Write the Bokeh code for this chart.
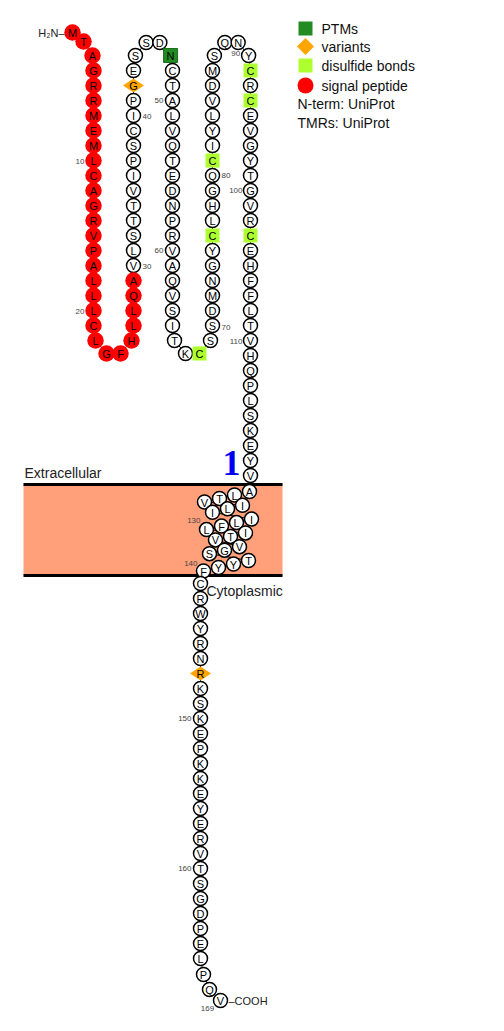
import math
from bokeh.plotting import figure
from bokeh.models import Range1d
from bokeh.core.properties import value
from bokeh.embed import file_html
from bokeh.resources import INLINE

# protein data
sequence = ("MTAGRRMEML" "CAGRVPALLL" "CLGFHLLQAV" "LSTTVIPSCI" "PGESSDNCTA"
            "LVQTEDNPRV" "AQVSITKCSS" "DMNGYCLHGQ" "CIYLVDMSQN" "YCRCEVGYTG"
            "VRCEHFFLTV" "HQPLSKEYVA" "LTVILIILFL" "ITVVGSTYYF" "CRWYRNRKSK"
            "EPKKEYERVT" "SGDPELPQV")
signal_peptide = (1, 29)
ptm_sites = [47]
variant_sites = [42, 147]
disulfide_sites = [68, 76, 81, 92, 94, 103]
tm_region = (120, 140)
tm_name = "1"
numbered = [10, 20, 30, 40, 50, 60, 70, 80, 90, 100, 110, 130, 140, 150, 160, 169]
legend_labels = ["PTMs", "variants", "disulfide bonds", "signal peptide"]
legend_notes = ["N-term: UniProt", "TMRs: UniProt"]
side_labels = ["Extracellular", "Cytoplasmic"]

FONT = value("Liberation Sans")

# ---- layout (pixel units, y grows downward) ----
STEP = 15
cols = [93, 133, 172, 212, 250]
Y_TOP, Y_BOT = 70, 325
TURN = [(2, 15), (13, 28), (27, 28), (38, 15)]
tm_rows = [4, 3, 4, 3, 3, 4]
tm_row_x = [249, 242, 251, 245, 239, 248]
MEM_TOP, MEM_BOT = 484, 575

xs, ys = [], []


def add(x, y):
    xs.append(x)
    ys.append(y)


for dx, dy in [(-21, -38), (-10, -29), (-1, -15)]:
    add(cols[0] + dx, Y_TOP + dy)
for c in range(4):
    down = c % 2 == 0
    col_y = [Y_TOP + k * STEP for k in range(18)]
    for y in (col_y if down else col_y[::-1]):
        add(cols[c], y)
    gap = cols[c + 1] - cols[c]
    for dx, dy in TURN:
        add(cols[c] + dx * gap / 40, Y_BOT + dy if down else Y_TOP - dy)
for k in range(tm_region[0] - 1 - len(xs)):
    add(cols[4], Y_TOP + k * STEP)
for r, n in enumerate(tm_rows):
    for j in range(n):
        add(tm_row_x[r] - 15 * j, 491 + 13.8 * r + 3.5 * j)
for k in range(len(sequence) - 3 - len(xs)):
    add(200, 583 + k * STEP)
lx, ly = xs[-1], ys[-1]
for dx, dy in [(3, 16), (9, 31), (20, 42)]:
    add(lx + dx, ly + dy)

p = figure(width=488, height=1015, x_range=Range1d(0, 488), y_range=Range1d(1015, 0),
           toolbar_location=None, output_backend="svg", min_border=0)
p.axis.visible = False
p.grid.visible = False
p.outline_line_color = None

# membrane
p.quad(left=23, right=282, top=MEM_TOP, bottom=MEM_BOT, fill_color="#ffa07a", line_color=None)
p.segment(x0=[23, 23], y0=[MEM_TOP, MEM_BOT], x1=[282, 282], y1=[MEM_TOP, MEM_BOT],
          line_color="black", line_width=3)
p.text(x=[24], y=[472], text=[side_labels[0]], text_font=FONT, text_font_size="14px",
       text_baseline="middle", text_color="#222")
p.text(x=[206], y=[590], text=[side_labels[1]], text_font=FONT, text_font_size="14px",
       text_baseline="middle", text_color="#222")
p.text(x=[231], y=[462], text=[tm_name], text_font=value("Liberation Serif"),
       text_font_size="36px", text_font_style="bold", text_align="center",
       text_baseline="middle", text_color="#0000ee")

# backbone
p.line(xs, ys, line_color="black", line_width=1)

groups = {"plain": [], "signal": [], "ptm": [], "variant": [], "disulfide": []}
for i in range(1, len(sequence) + 1):
    if signal_peptide[0] <= i <= signal_peptide[1]:
        groups["signal"].append(i)
    elif i in ptm_sites:
        groups["ptm"].append(i)
    elif i in variant_sites:
        groups["variant"].append(i)
    elif i in disulfide_sites:
        groups["disulfide"].append(i)
    else:
        groups["plain"].append(i)


def pick(ids):
    return dict(x=[xs[i - 1] for i in ids], y=[ys[i - 1] for i in ids])


p.scatter(**pick(groups["plain"]), marker="circle", size=14, fill_color="white",
          line_color="black", line_width=1.5)
p.scatter(**pick(groups["signal"]), marker="circle", size=16.5, fill_color="#ff0000",
          line_color=None)
p.scatter(**pick(groups["ptm"]), marker="square", size=14, fill_color="#228b22",
          line_color="#1b6e1b")
p.scatter(**pick(groups["variant"]), marker="diamond", size=21, angle=math.pi / 2,
          fill_color="#ffa500", line_color=None)
p.scatter(**pick(groups["disulfide"]), marker="square", size=14, fill_color="#adff2f",
          line_color=None)

p.text(x=xs, y=ys, text=list(sequence), text_font=FONT, text_font_size="11px",
       text_align="center", text_baseline="middle", text_color="black", y_offset=0.5)

# residue numbers
num_off = {10: (-9, 1, "right"), 20: (-9, 1, "right"), 30: (9, 1, "left"), 40: (9, 1, "left"),
           50: (-9, 0, "right"), 60: (-9, 0, "right"), 70: (9, 2, "left"), 80: (9, 0, "left"),
           90: (2, 11, "right"), 100: (-8, 0, "right"), 110: (-8, 1, "right"),
           130: (-6, -9, "right"), 140: (-6, -8, "right"), 150: (-9, 0, "right"),
           160: (-9, 0, "right"), 169: (-13, 8, "center")}
for n in numbered:
    dx, dy, al = num_off[n]
    p.text(x=[xs[n - 1] + dx], y=[ys[n - 1] + dy], text=[str(n)], text_font=FONT,
           text_font_size="8px", text_align=al, text_baseline="middle", text_color="#444")

p.text(x=[xs[0] - 8], y=[ys[0]], text=["H\u2082N\u2013"], text_font=FONT, text_font_size="11px",
       text_align="right", text_baseline="middle", text_color="#222")
p.text(x=[xs[-1] + 8], y=[ys[-1]], text=["\u2013COOH"], text_font=FONT, text_font_size="11px",
       text_align="left", text_baseline="middle", text_color="#222")

# legend
leg_y = [28, 46, 65, 85]
p.scatter(x=[305], y=[leg_y[0]], marker="square", size=14, fill_color="#228b22", line_color=None)
p.scatter(x=[305], y=[leg_y[1]], marker="square", size=12, angle=math.pi / 4,
          fill_color="#ffa500", line_color=None)
p.scatter(x=[305], y=[leg_y[2]], marker="square", size=14, fill_color="#adff2f", line_color=None)
p.scatter(x=[305], y=[leg_y[3]], marker="circle", size=16, fill_color="#ff0000", line_color=None)
p.text(x=[321] * 4, y=leg_y, text=legend_labels, text_font=FONT, text_font_size="14px",
       text_baseline="middle", text_color="#111")
p.text(x=[297] * 2, y=[103, 122], text=legend_notes, text_font=FONT, text_font_size="14px",
       text_baseline="middle", text_color="#111")

open("out.html", "w").write(file_html(p, INLINE))
